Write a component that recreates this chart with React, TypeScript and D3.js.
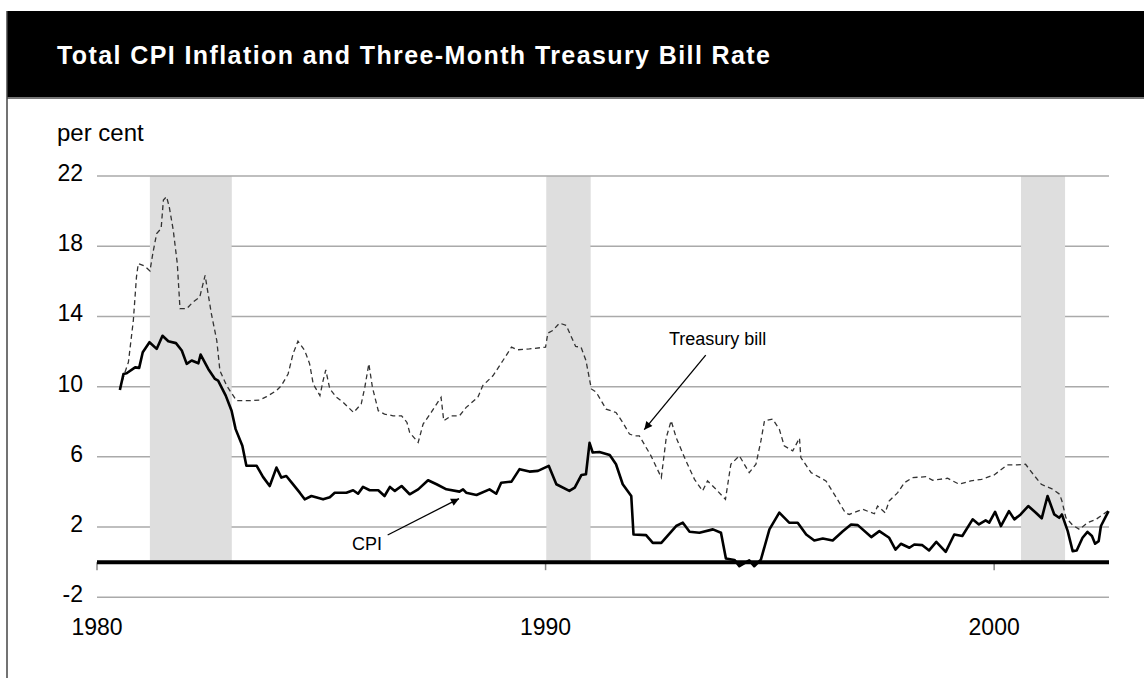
import React from "react";
import * as d3 from "d3";

// ---- Data ----
const titleText = "Total CPI Inflation and Three-Month Treasury Bill Rate";
const unitLabel = "per cent";
const yTicks = [22, 18, 14, 10, 6, 2, -2];
const xTicks = [1980, 1990, 2000];
const recessionStarts = [1981.18, 1990.02, 2000.6];
const recessionEnds = [1983.0, 1991.0, 2001.58];

const cpi: [number, number][] = [
  [1980.51, 9.81], [1980.59, 10.72], [1980.66, 10.76], [1980.85, 11.1], [1980.94, 11.07],
  [1981.02, 11.96], [1981.17, 12.53], [1981.33, 12.15], [1981.46, 12.9], [1981.59, 12.59],
  [1981.76, 12.48], [1981.89, 12.06], [1982.0, 11.3], [1982.11, 11.49], [1982.26, 11.33],
  [1982.31, 11.83], [1982.48, 11.01], [1982.63, 10.44], [1982.7, 10.34], [1982.87, 9.49],
  [1983.0, 8.63], [1983.09, 7.58], [1983.24, 6.63], [1983.33, 5.49], [1983.56, 5.49],
  [1983.7, 4.86], [1983.85, 4.34], [1984.0, 5.39], [1984.11, 4.82], [1984.22, 4.91],
  [1984.34, 4.53], [1984.52, 3.96], [1984.63, 3.58], [1984.78, 3.77], [1985.04, 3.58],
  [1985.19, 3.7], [1985.3, 3.96], [1985.56, 3.96], [1985.71, 4.1], [1985.82, 3.9],
  [1985.93, 4.29], [1986.08, 4.1], [1986.27, 4.1], [1986.41, 3.77], [1986.53, 4.29],
  [1986.64, 4.06], [1986.79, 4.34], [1986.97, 3.87], [1987.16, 4.15], [1987.38, 4.67],
  [1987.57, 4.44], [1987.79, 4.15], [1988.08, 4.02], [1988.16, 4.15], [1988.23, 3.96],
  [1988.46, 3.83], [1988.75, 4.15], [1988.9, 3.9], [1989.01, 4.53], [1989.24, 4.59],
  [1989.42, 5.3], [1989.64, 5.16], [1989.83, 5.2], [1990.07, 5.49], [1990.24, 4.44],
  [1990.53, 4.06], [1990.65, 4.25], [1990.8, 4.97], [1990.9, 5.01], [1990.98, 6.8],
  [1991.05, 6.25], [1991.2, 6.28], [1991.43, 6.11], [1991.57, 5.58], [1991.72, 4.44],
  [1991.91, 3.77], [1991.96, 1.58], [1992.24, 1.54], [1992.39, 1.1], [1992.58, 1.1],
  [1992.91, 2.06], [1993.06, 2.25], [1993.21, 1.73], [1993.43, 1.68], [1993.73, 1.87],
  [1993.91, 1.68], [1994.02, 0.21], [1994.21, 0.13], [1994.32, -0.23], [1994.54, 0.1],
  [1994.65, -0.23], [1994.8, 0.15], [1994.99, 1.87], [1995.21, 2.82], [1995.43, 2.25],
  [1995.62, 2.25], [1995.81, 1.58], [1995.99, 1.24], [1996.18, 1.35], [1996.4, 1.24],
  [1996.62, 1.75], [1996.81, 2.15], [1996.96, 2.11], [1997.26, 1.43], [1997.44, 1.77],
  [1997.66, 1.39], [1997.8, 0.72], [1997.92, 1.05], [1998.11, 0.82], [1998.22, 1.01],
  [1998.4, 0.97], [1998.55, 0.67], [1998.71, 1.16], [1998.92, 0.59], [1999.11, 1.58],
  [1999.29, 1.49], [1999.52, 2.44], [1999.66, 2.15], [1999.81, 2.38], [1999.89, 2.25],
  [2000.02, 2.87], [2000.15, 2.06], [2000.33, 2.91], [2000.45, 2.44], [2000.59, 2.72],
  [2000.76, 3.2], [2000.93, 2.82], [2001.06, 2.5], [2001.19, 3.77], [2001.34, 2.72],
  [2001.45, 2.53], [2001.51, 2.72], [2001.64, 1.77], [2001.75, 0.63], [2001.84, 0.67],
  [2001.97, 1.39], [2002.08, 1.73], [2002.18, 1.49], [2002.25, 1.05], [2002.33, 1.2],
  [2002.38, 2.06], [2002.55, 2.91],
];

const tbill: [number, number][] = [
  [1980.51, 9.9], [1980.62, 10.8], [1980.7, 11.39], [1980.81, 13.77], [1980.88, 16.25],
  [1980.92, 17.01], [1981.07, 16.86], [1981.18, 16.59], [1981.25, 17.67], [1981.33, 18.72],
  [1981.43, 19.01], [1981.48, 20.63], [1981.55, 20.82], [1981.61, 20.25], [1981.7, 18.91],
  [1981.79, 17.01], [1981.85, 14.44], [1982.0, 14.44], [1982.14, 14.82], [1982.29, 15.1],
  [1982.41, 16.34], [1982.44, 15.87], [1982.55, 14.15], [1982.67, 12.63], [1982.74, 10.91],
  [1982.89, 10.06], [1983.11, 9.2], [1983.41, 9.2], [1983.63, 9.24], [1983.78, 9.43],
  [1984.0, 9.77], [1984.11, 10.06], [1984.26, 10.72], [1984.37, 11.87], [1984.48, 12.59],
  [1984.63, 12.06], [1984.74, 11.3], [1984.82, 10.15], [1984.97, 9.49], [1985.04, 10.34],
  [1985.1, 10.95], [1985.19, 9.87], [1985.34, 9.39], [1985.49, 9.1], [1985.72, 8.53],
  [1985.89, 9.01], [1985.97, 9.96], [1986.06, 11.3], [1986.14, 9.96], [1986.27, 8.63],
  [1986.41, 8.44], [1986.6, 8.34], [1986.79, 8.34], [1986.91, 7.96], [1986.97, 7.39],
  [1987.16, 6.82], [1987.27, 7.87], [1987.45, 8.53], [1987.57, 9.01], [1987.67, 9.39],
  [1987.73, 8.06], [1987.9, 8.34], [1988.08, 8.34], [1988.23, 8.82], [1988.49, 9.39],
  [1988.6, 10.06], [1988.83, 10.63], [1989.05, 11.49], [1989.24, 12.25], [1989.38, 12.1],
  [1989.64, 12.15], [1990.0, 12.25], [1990.05, 13.05], [1990.16, 13.2], [1990.31, 13.62],
  [1990.46, 13.49], [1990.57, 12.86], [1990.67, 12.29], [1990.79, 12.25], [1990.9, 11.49],
  [1991.02, 9.87], [1991.13, 9.68], [1991.35, 8.72], [1991.57, 8.53], [1991.72, 7.96],
  [1991.87, 7.3], [1991.98, 7.2], [1992.09, 7.2], [1992.35, 6.06], [1992.58, 4.82],
  [1992.69, 7.1], [1992.8, 8.06], [1992.91, 7.1], [1993.13, 5.77], [1993.32, 4.72],
  [1993.5, 4.06], [1993.61, 4.63], [1993.8, 4.15], [1994.01, 3.58], [1994.13, 5.58],
  [1994.32, 6.06], [1994.54, 5.1], [1994.69, 5.58], [1994.8, 6.91], [1994.88, 8.06],
  [1995.06, 8.15], [1995.21, 7.58], [1995.32, 6.63], [1995.51, 6.34], [1995.66, 7.07],
  [1995.69, 5.96], [1995.92, 5.1], [1996.25, 4.63], [1996.5, 3.6], [1996.68, 2.82],
  [1996.77, 2.72], [1997.07, 3.01], [1997.33, 2.76], [1997.4, 3.2], [1997.57, 2.82],
  [1997.66, 3.49], [1997.85, 3.96], [1998.0, 4.53], [1998.18, 4.82], [1998.48, 4.87],
  [1998.63, 4.67], [1998.78, 4.72], [1998.96, 4.78], [1999.22, 4.44], [1999.48, 4.63],
  [1999.72, 4.72], [2000.0, 4.97], [2000.29, 5.54], [2000.51, 5.54], [2000.7, 5.58],
  [2000.87, 5.01], [2001.05, 4.44], [2001.31, 4.15], [2001.46, 3.87], [2001.51, 3.49],
  [2001.6, 2.53], [2001.75, 2.11], [2001.9, 1.87], [2002.08, 2.25], [2002.27, 2.44],
  [2002.55, 2.95],
];

const annotations = [
  { text: "Treasury bill", tx: 669, ty: 345, from: [1993.57, 11.8], to: [1992.2, 7.55] },
  { text: "CPI", tx: 352, ty: 550, from: [1986.48, 1.55], to: [1988.07, 3.62] },
];

const W = 1144;
const H = 678;
const FONT = "'Liberation Sans', Arial, Helvetica, sans-serif";

export default function App() {
  const x = d3.scaleLinear().domain([1980, 2002.56]).range([97, 1109]);
  const y = d3.scaleLinear().domain([-2, 22]).range([597.3, 176]);
  const line = d3
    .line<[number, number]>()
    .x((d) => x(d[0]))
    .y((d) => y(d[1]))
    .curve(d3.curveLinear);

  return (
    <svg
      width={W}
      height={H}
      viewBox={`0 0 ${W} ${H}`}
      style={{ position: "absolute", left: 0, top: 0, background: "#fff" }}
    >
      <defs>
        <marker
          id="arrow"
          viewBox="0 0 10 10"
          refX="10"
          refY="5"
          markerWidth="11"
          markerHeight="8"
          markerUnits="userSpaceOnUse"
          orient="auto"
        >
          <path d="M0,0 L10,5 L0,10 z" fill="#000" />
        </marker>
      </defs>

      {/* header */}
      <rect x={7} y={11} width={W - 7} height={87} fill="#000" />
      <line x1={7} x2={W} y1={98} y2={98} stroke="#777" strokeWidth={2} />
      <line x1={7} x2={7} y1={11} y2={H} stroke="#444" strokeWidth={1.5} />
      <text
        x={57}
        y={64}
        fill="#fff"
        fontFamily={FONT}
        fontWeight="bold"
        fontSize={25}
        textLength={713}
        lengthAdjust="spacing"
      >
        {titleText}
      </text>

      {/* unit label */}
      <text x={57} y={141} fontFamily={FONT} fontSize={24} fill="#000">
        {unitLabel}
      </text>

      {/* recession shading */}
      {recessionStarts.map((s, i) => (
        <rect
          key={"r" + i}
          x={x(s)}
          y={y(22)}
          width={x(recessionEnds[i]) - x(s)}
          height={y(0) - y(22)}
          fill="#dedede"
        />
      ))}

      {/* gridlines */}
      {yTicks.map((t) => (
        <g key={"g" + t}>
          <line x1={x(1980)} x2={x(2002.56)} y1={y(t)} y2={y(t)} stroke="#aaa" strokeWidth={1.5} />
          <text
            x={83}
            y={y(t) + 5}
            textAnchor="end"
            fontFamily={FONT}
            fontSize={23}
            fill="#000"
          >
            {t}
          </text>
        </g>
      ))}

      {/* shading drawn over gridlines inside bands */}
      {recessionStarts.map((s, i) => (
        <rect
          key={"r2" + i}
          x={x(s)}
          y={y(22) + 1}
          width={x(recessionEnds[i]) - x(s)}
          height={y(0) - y(22) - 1}
          fill="#dedede"
        />
      ))}

      {/* x ticks */}
      {xTicks.map((t) => (
        <g key={"x" + t}>
          <line x1={x(t)} x2={x(t)} y1={y(0)} y2={y(0) + 8} stroke="#888" strokeWidth={1.5} />
          <text x={x(t)} y={635} textAnchor="middle" fontFamily={FONT} fontSize={23} fill="#000">
            {t}
          </text>
        </g>
      ))}

      {/* zero line */}
      <line x1={x(1980)} x2={x(2002.56)} y1={y(0)} y2={y(0)} stroke="#000" strokeWidth={4} />

      {/* series */}
      <path
        d={line(tbill) || ""}
        fill="none"
        stroke="#333"
        strokeWidth={1.3}
        strokeDasharray="5,3.5"
      />
      <path d={line(cpi) || ""} fill="none" stroke="#000" strokeWidth={2.6} strokeLinejoin="round" />

      {/* annotations */}
      {annotations.map((a) => (
        <g key={a.text}>
          <text x={a.tx} y={a.ty} fontFamily={FONT} fontSize={18} fill="#000">
            {a.text}
          </text>
          <line
            x1={x(a.from[0])}
            y1={y(a.from[1])}
            x2={x(a.to[0])}
            y2={y(a.to[1])}
            stroke="#000"
            strokeWidth={1.3}
            markerEnd="url(#arrow)"
          />
        </g>
      ))}
    </svg>
  );
}
